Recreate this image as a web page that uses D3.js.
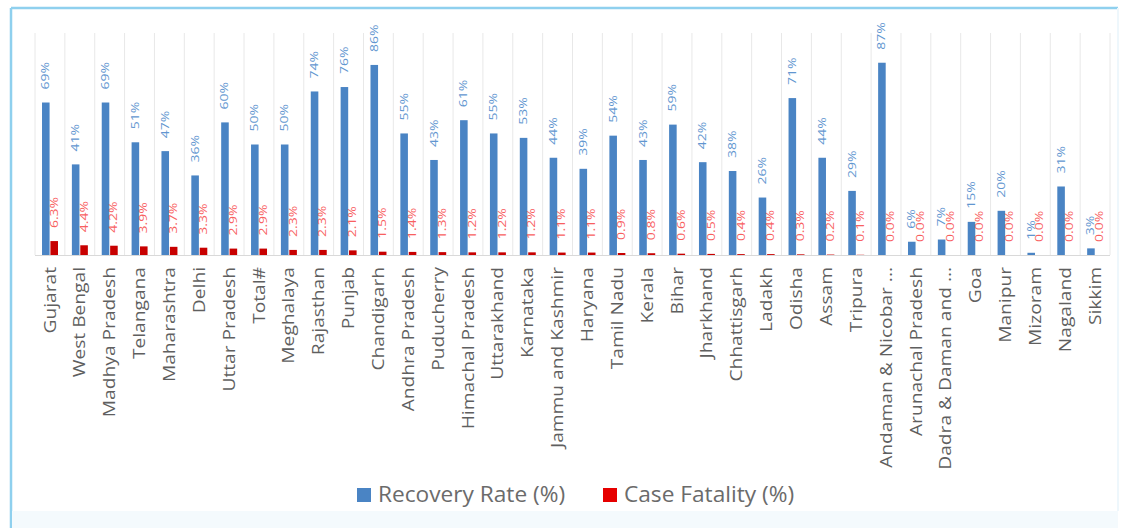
<!DOCTYPE html>
<html>
<head>
    <title>Recovery Rate and Case Fatality by State</title>
    <script src="https://d3js.org/d3.v7.min.js"></script>
    <style>
        body { margin: 0; background: #fff; }
        text { font-family: "Open Sans", sans-serif; }
    </style>
</head>
<body>
    <div id="chart"></div>
    <script>
        var states = ["Gujarat", "West Bengal", "Madhya Pradesh", "Telangana", "Maharashtra", "Delhi",
            "Uttar Pradesh", "Total#", "Meghalaya", "Rajasthan", "Punjab", "Chandigarh", "Andhra Pradesh",
            "Puducherry", "Himachal Pradesh", "Uttarakhand", "Karnataka", "Jammu and Kashmir", "Haryana",
            "Tamil Nadu", "Kerala", "Bihar", "Jharkhand", "Chhattisgarh", "Ladakh", "Odisha", "Assam",
            "Tripura", "Andaman & Nicobar ...", "Arunachal Pradesh", "Dadra & Daman and ...", "Goa",
            "Manipur", "Mizoram", "Nagaland", "Sikkim"];
        var recoveryRate = [69, 41, 69, 51, 47, 36, 60, 50, 50, 74, 76, 86, 55, 43, 61, 55, 53, 44, 39,
            54, 43, 59, 42, 38, 26, 71, 44, 29, 87, 6, 7, 15, 20, 1, 31, 3];
        var caseFatality = [6.3, 4.4, 4.2, 3.9, 3.7, 3.3, 2.9, 2.9, 2.3, 2.3, 2.1, 1.5, 1.4, 1.3, 1.2, 1.2,
            1.2, 1.1, 1.1, 0.9, 0.8, 0.6, 0.5, 0.4, 0.4, 0.3, 0.2, 0.1, 0, 0, 0, 0, 0, 0, 0, 0];
        var seriesNames = ["Recovery Rate (%)", "Case Fatality (%)"];

        var width = 1126, height = 528;
        var plotLeft = 35, plotRight = 1110, plotTop = 34, plotBottom = 255;

        var svg = d3.select("#chart")
            .append("svg")
            .attr("width", width)
            .attr("height", height);

        // outer frame: left/top strong, right/bottom faint
        svg.append("line").attr("x1", 11).attr("y1", 8).attr("x2", 11).attr("y2", height)
            .attr("stroke", "#8fd0ee").attr("stroke-width", 2.5);
        svg.append("line").attr("x1", 11).attr("y1", 8).attr("x2", 1118).attr("y2", 8)
            .attr("stroke", "#8fd0ee").attr("stroke-width", 2.5);
        svg.append("line").attr("x1", 1118).attr("y1", 8).attr("x2", 1118).attr("y2", 511)
            .attr("stroke", "#eef7fc").attr("stroke-width", 2);
        svg.append("rect").attr("x", 12).attr("y", 511).attr("width", 1106).attr("height", 17)
            .attr("fill", "#f4fafd");

        var x = d3.scaleBand()
            .domain(states)
            .range([plotLeft, plotRight]);

        var bw = x.bandwidth();
        var x1 = d3.scaleBand()
            .domain([0, 1])
            .range([bw * 0.235, bw * 0.77])
            .paddingInner(0.1);

        var y = d3.scaleLinear()
            .domain([0, 100])
            .range([plotBottom, plotTop]);

        // vertical category gridlines
        svg.append("g")
            .selectAll("line")
            .data(states.concat(["end"]))
            .enter()
            .append("line")
            .attr("x1", function(d, i) { return plotLeft + i * bw; })
            .attr("x2", function(d, i) { return plotLeft + i * bw; })
            .attr("y1", plotTop - 1)
            .attr("y2", plotBottom)
            .attr("stroke", "#e8e8e8")
            .attr("stroke-width", 1);

        var colors = ["#4a84c4", "#c80000"];
        var labelColors = ["#6196d0", "#f86060"];
        var series = [recoveryRate, caseFatality];
        var formats = [function(v) { return v + "%"; }, function(v) { return d3.format(".1f")(v) + "%"; }];

        series.forEach(function(values, s) {
            var g = svg.append("g");
            g.selectAll("rect")
                .data(values)
                .enter()
                .append("rect")
                .attr("x", function(d, i) { return x(states[i]) + x1(s); })
                .attr("y", function(d) { return y(d); })
                .attr("width", x1.bandwidth())
                .attr("height", function(d) { return plotBottom - y(d); })
                .attr("fill", colors[s]);

            g.selectAll("text")
                .data(values)
                .enter()
                .append("text")
                .attr("transform", function(d, i) {
                    var cx = x(states[i]) + x1(s) + x1.bandwidth() / 2;
                    return "translate(" + cx + "," + (y(d) - 13) + ") rotate(-90) scale(1.4,1)";
                })
                .attr("dy", "0.35em")
                .attr("font-size", 10)
                .attr("fill", labelColors[s])
                .text(formats[s]);
        });

        // baseline
        svg.append("line")
            .attr("x1", plotLeft).attr("x2", plotRight)
            .attr("y1", plotBottom + 0.5).attr("y2", plotBottom + 0.5)
            .attr("stroke", "#d9d9d9");

        // category labels
        svg.append("g")
            .selectAll("text")
            .data(states)
            .enter()
            .append("text")
            .attr("transform", function(d) {
                return "translate(" + (x(d) + bw / 2) + "," + (plotBottom + 12) + ") rotate(-90) scale(1.2,1)";
            })
            .attr("dy", "0.35em")
            .attr("text-anchor", "end")
            .attr("font-size", 16)
            .attr("fill", "#5f5f5f")
            .text(function(d) { return d; });

        // legend
        var legendColors = ["#4a84c4", "#e60000"];
        var legend = svg.append("g")
            .selectAll("g")
            .data(seriesNames)
            .enter()
            .append("g")
            .attr("transform", function(d, i) { return "translate(" + (357 + i * 246) + ",488)"; });

        legend.append("rect")
            .attr("width", 14)
            .attr("height", 14)
            .attr("fill", function(d, i) { return legendColors[i]; });

        legend.append("text")
            .attr("transform", "translate(21,7) scale(1.08,1)")
            .attr("dy", "0.35em")
            .attr("font-size", 21)
            .attr("fill", "#6b6b6b")
            .text(function(d) { return d; });
    </script>
</body>
</html>
